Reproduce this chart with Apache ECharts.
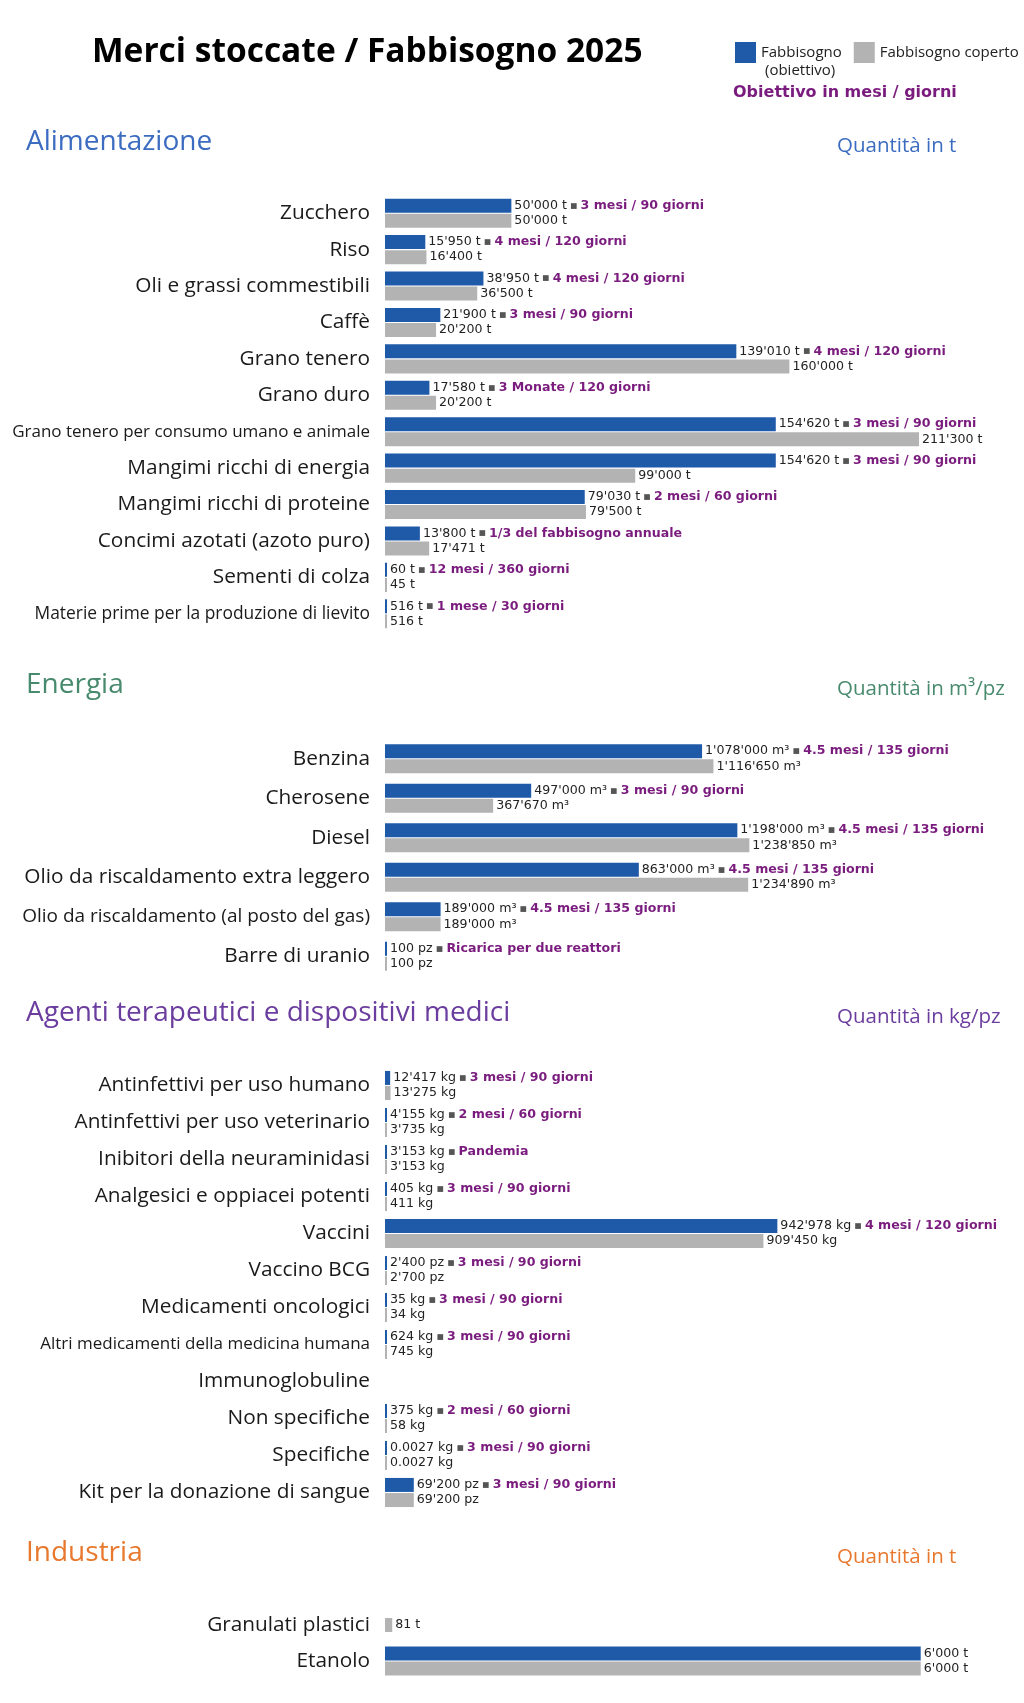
<!DOCTYPE html>
<html>
<head>
<meta charset="utf-8">
<script src="https://cdn.jsdelivr.net/npm/echarts@6/dist/echarts.min.js"></script>
<style>
  html, body { margin: 0; padding: 0; background: #fff; }
  #chart { width: 1024px; height: 1703px; }
</style>
</head>
<body>
<div id="chart"></div>
<script>
// Alimentazione
const foodNames = ['Zucchero', 'Riso', 'Oli e grassi commestibili', 'Caffè', 'Grano tenero', 'Grano duro',
  'Grano tenero per consumo umano e animale', 'Mangimi ricchi di energia', 'Mangimi ricchi di proteine',
  'Concimi azotati (azoto puro)', 'Sementi di colza', 'Materie prime per la produzione di lievito'];
const foodTarget = [50000, 15950, 38950, 21900, 139010, 17580, 154620, 154620, 79030, 13800, 60, 516];
const foodCovered = [50000, 16400, 36500, 20200, 160000, 20200, 211300, 99000, 79500, 17471, 45, 516];
const foodGoal = ['3 mesi / 90 giorni', '4 mesi / 120 giorni', '4 mesi / 120 giorni', '3 mesi / 90 giorni',
  '4 mesi / 120 giorni', '3 Monate / 120 giorni', '3 mesi / 90 giorni', '3 mesi / 90 giorni',
  '2 mesi / 60 giorni', '1/3 del fabbisogno annuale', '12 mesi / 360 giorni', '1 mese / 30 giorni'];
const foodUnit = ['t', 't', 't', 't', 't', 't', 't', 't', 't', 't', 't', 't'];

// Energia
const energyNames = ['Benzina', 'Cherosene', 'Diesel', 'Olio da riscaldamento extra leggero',
  'Olio da riscaldamento (al posto del gas)', 'Barre di uranio'];
const energyTarget = [1078000, 497000, 1198000, 863000, 189000, 100];
const energyCovered = [1116650, 367670, 1238850, 1234890, 189000, 100];
const energyGoal = ['4.5 mesi / 135 giorni', '3 mesi / 90 giorni', '4.5 mesi / 135 giorni',
  '4.5 mesi / 135 giorni', '4.5 mesi / 135 giorni', 'Ricarica per due reattori'];
const energyUnit = ['m³', 'm³', 'm³', 'm³', 'm³', 'pz'];

// Agenti terapeutici e dispositivi medici
const medNames = ['Antinfettivi per uso humano', 'Antinfettivi per uso veterinario', 'Inibitori della neuraminidasi',
  'Analgesici e oppiacei potenti', 'Vaccini', 'Vaccino BCG', 'Medicamenti oncologici',
  'Altri medicamenti della medicina humana', 'Immunoglobuline', 'Non specifiche', 'Specifiche',
  'Kit per la donazione di sangue'];
const medTarget = [12417, 4155, 3153, 405, 942978, 2400, 35, 624, null, 375, 0.0027, 69200];
const medCovered = [13275, 3735, 3153, 411, 909450, 2700, 34, 745, null, 58, 0.0027, 69200];
const medGoal = ['3 mesi / 90 giorni', '2 mesi / 60 giorni', 'Pandemia', '3 mesi / 90 giorni',
  '4 mesi / 120 giorni', '3 mesi / 90 giorni', '3 mesi / 90 giorni', '3 mesi / 90 giorni', '',
  '2 mesi / 60 giorni', '3 mesi / 90 giorni', '3 mesi / 90 giorni'];
const medUnit = ['kg', 'kg', 'kg', 'kg', 'kg', 'pz', 'kg', 'kg', '', 'kg', 'kg', 'pz'];

// Industria
const indNames = ['Granulati plastici', 'Etanolo'];
const indTarget = [null, 6000];
const indCovered = [81, 6000];
const indGoal = ['', ''];
const indUnit = ['t', 't'];

const BLUE = '#1f5aa9';
const GRAY = '#b3b3b3';
const PURPLE = '#7a1b7e';
const TARGET_NAME = 'Fabbisogno (obiettivo)';
const COVERED_NAME = 'Fabbisogno coperto';

// labels drawn smaller than the rest
const labelSizes = {
  'Grano tenero per consumo umano e animale': 17,
  'Materie prime per la produzione di lievito': 17.4,
  'Altri medicamenti della medicina humana': 17,
  'Olio da riscaldamento (al posto del gas)': 19
};

const sections = [
  { title: 'Alimentazione', qty: 'Quantità in t', color: '#3b6cc0', headY: 142,
    names: foodNames, target: foodTarget, covered: foodCovered, goal: foodGoal, unit: foodUnit,
    max: 237400, top: 195, height: 437 },
  { title: 'Energia', qty: 'Quantità in m³/pz', color: '#488a6d', headY: 685,
    names: energyNames, target: energyTarget, covered: energyCovered, goal: energyGoal, unit: energyUnit,
    max: 2040000, top: 739, height: 237 },
  { title: 'Agenti terapeutici e dispositivi medici', qty: 'Quantità in kg/pz', color: '#6a3d9e', headY: 1013,
    names: medNames, target: medTarget, covered: medCovered, goal: medGoal, unit: medUnit,
    max: 1442000, top: 1067, height: 444 },
  { title: 'Industria', qty: 'Quantità in t', color: '#e8782d', headY: 1553,
    names: indNames, target: indTarget, covered: indCovered, goal: indGoal, unit: indUnit,
    max: 6720, top: 1607, height: 72 }
];

function fmt(v) {
  if (!Number.isInteger(v)) return String(v);
  return String(v).replace(/\B(?=(\d{3})+(?!\d))/g, "'");
}

const valueRich = {
  v: { fontSize: 12.6, color: '#222', fontFamily: 'DejaVu Sans' },
  s: { fontSize: 7.5, color: '#555', fontFamily: 'DejaVu Sans' },
  g: { fontSize: 12.6, color: PURPLE, fontWeight: 'bold', fontFamily: 'DejaVu Sans' }
};

const grids = [], xAxes = [], yAxes = [], series = [], graphics = [];

function txt(text, x, y, font, fill, align) {
  graphics.push({
    type: 'text',
    style: {
      text: text, x: x, y: y, font: font, fill: fill,
      align: align || 'left', verticalAlign: 'middle',
      textAlign: align || 'left', textVerticalAlign: 'middle'
    }
  });
}

txt('Merci stoccate / Fabbisogno 2025', 92, 52, 'bold 33.5px "Open Sans"', '#000');
txt('(obiettivo)', 765, 71, '15px "Open Sans"', '#222');
txt('Obiettivo in mesi / giorni', 733, 93, 'bold 16px "DejaVu Sans"', PURPLE);

const coveredLabel = s => ({
  show: true, position: 'right', distance: 3,
  formatter: p => '{v|' + fmt(p.value) + ' ' + s.unit[p.dataIndex] + '}',
  rich: valueRich
});

sections.forEach((s, i) => {
  txt(s.title, 26, s.headY, '28px "Open Sans"', s.color);
  txt(s.qty, 837, s.headY + 4.5, '20.5px "Open Sans"', s.color);

  grids.push({ left: 385, width: 600, top: s.top, height: s.height });
  xAxes.push({ type: 'value', gridIndex: i, min: 0, max: s.max, show: false });
  const mainY = yAxes.length;
  yAxes.push({
    type: 'category', gridIndex: i, data: s.names, inverse: true,
    axisLine: { show: false }, axisTick: { show: false },
    axisLabel: {
      margin: 15, fontSize: 20.8, color: '#1a1a1a', fontFamily: 'Open Sans',
      formatter: v => labelSizes[v] ? '{s' + Math.round(labelSizes[v] * 10) + '|' + v + '}' : v,
      rich: Object.fromEntries(Object.values(labelSizes).map(sz =>
        ['s' + Math.round(sz * 10), { fontSize: sz, color: '#1a1a1a', fontFamily: 'Open Sans' }]))
    }
  });

  // rows with a covered value but no target get a single centred bar
  const paired = s.covered.map((v, j) => s.target[j] == null ? null : v);
  const alone = s.covered.map((v, j) => s.target[j] == null ? v : null);

  series.push({
    name: TARGET_NAME, type: 'bar', xAxisIndex: i, yAxisIndex: mainY,
    data: s.target, barWidth: 14, barGap: '8%', barMinHeight: 2,
    itemStyle: { color: BLUE },
    label: {
      show: true, position: 'right', distance: 3,
      formatter: p => {
        const t = fmt(p.value) + ' ' + s.unit[p.dataIndex];
        const g = s.goal[p.dataIndex];
        return g ? '{v|' + t + '} {s|■} {g|' + g + '}' : '{v|' + t + '}';
      },
      rich: valueRich
    }
  });
  series.push({
    name: COVERED_NAME, type: 'bar', xAxisIndex: i, yAxisIndex: mainY,
    data: paired, barWidth: 14, barGap: '8%', barMinHeight: 2,
    itemStyle: { color: GRAY },
    label: coveredLabel(s)
  });

  if (alone.some(v => v != null)) {
    const aloneY = yAxes.length;
    yAxes.push({ type: 'category', gridIndex: i, data: s.names, inverse: true, show: false });
    series.push({
      name: COVERED_NAME, type: 'bar', xAxisIndex: i, yAxisIndex: aloneY,
      data: alone, barWidth: 14, barMinHeight: 2,
      itemStyle: { color: GRAY },
      label: coveredLabel(s)
    });
  }
});

const chart = echarts.init(document.getElementById('chart'));
chart.setOption({
  animation: false,
  backgroundColor: '#fff',
  legend: {
    data: [TARGET_NAME, COVERED_NAME],
    left: 735, top: 42, padding: 0,
    icon: 'rect', itemWidth: 21, itemHeight: 21, itemGap: 12,
    selectedMode: false,
    formatter: n => n === TARGET_NAME ? 'Fabbisogno' : n,
    textStyle: { fontSize: 15, color: '#222', fontFamily: 'Open Sans' }
  },
  grid: grids,
  xAxis: xAxes,
  yAxis: yAxes,
  series: series,
  graphic: graphics
});
</script>
</body>
</html>
